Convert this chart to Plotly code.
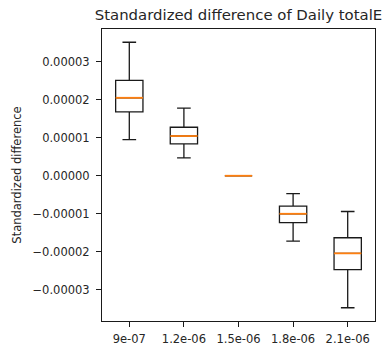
import plotly.graph_objects as go

# Box statistics per step size
categories = ["9e-07", "1.2e-06", "1.5e-06", "1.8e-06", "2.1e-06"]
lower_whisker = [0.95e-5, 0.47e-5, 0.0, -1.72e-5, -3.47e-5]
q1 = [1.68e-5, 0.84e-5, 0.0, -1.23e-5, -2.47e-5]
median = [2.05e-5, 1.045e-5, 0.0, -1.0e-5, -2.04e-5]
q3 = [2.51e-5, 1.275e-5, 0.0, -0.80e-5, -1.63e-5]
upper_whisker = [3.51e-5, 1.78e-5, 0.0, -0.47e-5, -0.94e-5]

ytick_vals = [3e-5, 2e-5, 1e-5, 0.0, -1e-5, -2e-5, -3e-5]
ytick_text = ["0.00003", "0.00002", "0.00001", "0.00000",
              "\u22120.00001", "\u22120.00002", "\u22120.00003"]

FONT = "DejaVu Sans"
positions = list(range(1, len(categories) + 1))
box_width = 0.5

fig = go.Figure()
fig.add_trace(go.Box(
    x=positions,
    q1=q1, median=median, q3=q3,
    lowerfence=lower_whisker, upperfence=upper_whisker,
    width=box_width,
    whiskerwidth=0.5,
    fillcolor="rgba(0,0,0,0)",
    line=dict(color="#1a1a1a", width=1.3),
    boxpoints=False,
    hoverinfo="skip",
    showlegend=False,
))

# Orange median lines drawn over the boxes
mx, my = [], []
for p, m in zip(positions, median):
    mx += [p - box_width / 2, p + box_width / 2, None]
    my += [m, m, None]
fig.add_trace(go.Scatter(
    x=mx, y=my, mode="lines",
    line=dict(color="#ff7f0e", width=1.8),
    hoverinfo="skip", showlegend=False,
))

lo = min(lower_whisker)
hi = max(upper_whisker)
pad = (hi - lo) * 0.05

fig.update_layout(
    width=387, height=349,
    margin=dict(l=102, r=12, t=29, b=28),
    paper_bgcolor="white", plot_bgcolor="white",
    font=dict(family=FONT, size=11.5, color="#262626"),
    title=dict(
        text="Standardized difference of Daily totalE",
        x=(102 + 375) / 2 / 387, xanchor="center",
        y=1 - 15 / 349, yanchor="middle",
        font=dict(family=FONT, size=14.9, color="#262626"),
    ),
)
fig.update_xaxes(
    range=[0.5, len(categories) + 0.5],
    tickvals=positions, ticktext=categories,
    showgrid=False, zeroline=False,
    showline=True, linecolor="#1a1a1a", linewidth=1, mirror=True,
    ticks="outside", ticklen=5, tickcolor="#1a1a1a",
    ticklabelstandoff=2,
    automargin=False,
)
fig.update_yaxes(
    range=[lo - pad, hi + pad],
    tickvals=ytick_vals, ticktext=ytick_text,
    showgrid=False, zeroline=False,
    showline=True, linecolor="#1a1a1a", linewidth=1, mirror=True,
    ticks="outside", ticklen=5, tickcolor="#1a1a1a",
    ticklabelstandoff=4,
    automargin=False,
    title=dict(text="Standardized difference", font=dict(family=FONT, size=11.5), standoff=8),
)

fig.write_html("out.html")
